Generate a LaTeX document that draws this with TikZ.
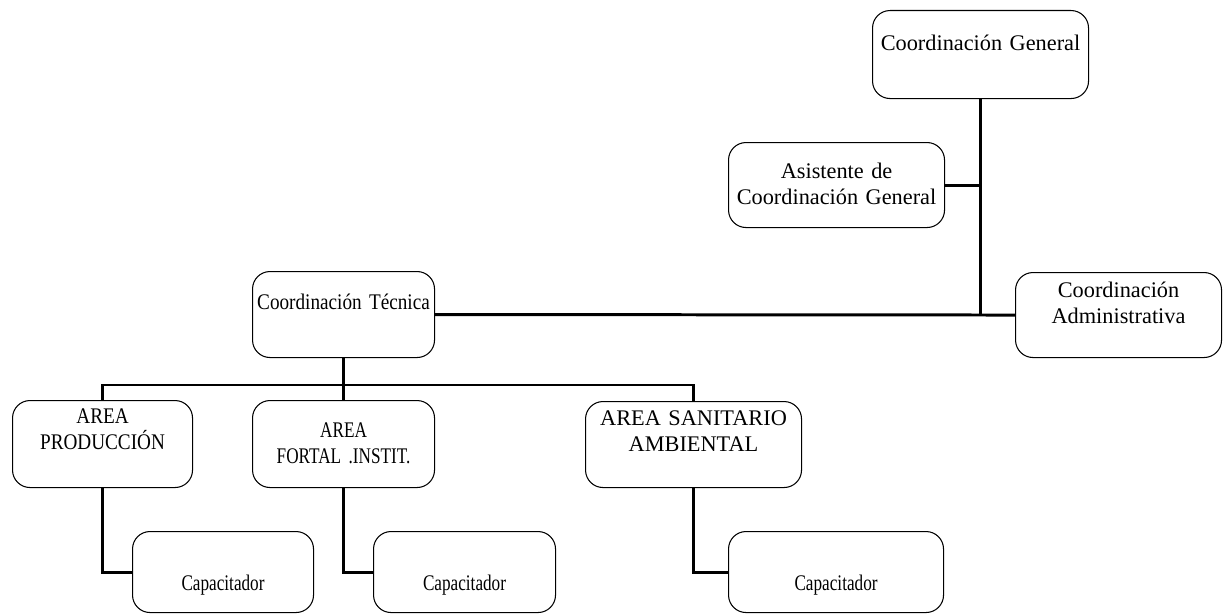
\documentclass[tikz,border=0pt]{standalone}
\usepackage{fontspec}
\setmainfont{Liberation Serif}
\newfontfamily\narrowA[FakeStretch=0.86]{Liberation Serif}
\newfontfamily\narrowB[FakeStretch=0.77]{Liberation Serif}
\usetikzlibrary{calc}

\begin{document}
\begin{tikzpicture}[
        unit/.style={draw, line width=0.6pt, rounded corners=0.35cm, anchor=north west,
                inner sep=0pt, align=center, font=\fontsize{12.7}{14.8}\selectfont},
        link/.style={black, line width=1.7pt}]
        \useasboundingbox (0,0) rectangle (24.46,-12.30);
        % coordination
        \node[unit, text width=4.32cm, text height=0.80cm, text depth=0.96cm] (gen) at (17.44,-0.20) {Coordinación General};
        \node[unit, text width=4.32cm, text height=0.72cm, text depth=0.98cm] (asis) at (14.56,-2.84) {Asistente de\\Coordinación General};
        \node[unit, text width=4.12cm, text height=0.50cm, text depth=1.20cm] (adm) at (20.30,-5.44) {Coordinación\\Administrativa};
        \node[unit, font=\narrowA\fontsize{12.7}{14.8}\selectfont, text width=3.64cm, text height=0.76cm, text depth=0.96cm] (tec) at (5.04,-5.42) {Coordinación Técnica};
        % areas
        \node[unit, font=\narrowA\fontsize{12.7}{14.8}\selectfont, text width=3.60cm, text height=0.46cm, text depth=1.28cm] (prod) at (0.24,-8.00) {AREA\\PRODUCCIÓN};
        \node[unit, font=\narrowB\fontsize{12.7}{14.8}\selectfont, text width=3.64cm, text height=0.74cm, text depth=1.00cm] (fort) at (5.04,-8.00) {AREA\\FORTAL .INSTIT.};
        \node[unit, text width=4.32cm, text height=0.48cm, text depth=1.24cm] (san) at (11.70,-8.02) {AREA SANITARIO\\AMBIENTAL};
        \foreach \n/\x/\w in {1/2.64/3.62, 2/7.46/3.64, 3/14.56/4.30} {
                \node[unit, font=\narrowB\fontsize{12.7}{14.8}\selectfont, text width=\w cm, text height=1.18cm, text depth=0.44cm] (cap\n) at (\x,-10.62) {Capacitador};
            }
        % connectors
        \draw[link] (gen.south) -- (gen.south |- adm.west);
        \draw[link] (asis.east) -- (asis.east -| gen.south);
        \draw[link] (tec.east) -- (adm.west);
        \draw[link] (tec.south) -- (fort.north);
        \coordinate (bus) at (6.86,-7.70);
        \draw[link] (prod.north) |- (bus) -| (san.north);
        \draw[link] (prod.south) |- (cap1.west);
        \draw[link] (fort.south) |- (cap2.west);
        \draw[link] (san.south) |- (cap3.west);
    \end{tikzpicture}
\end{document}
